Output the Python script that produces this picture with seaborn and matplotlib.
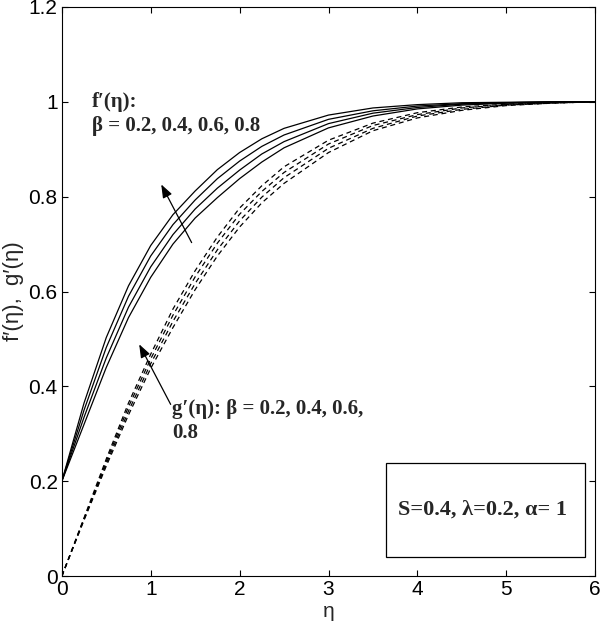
import numpy as np
import pandas as pd
import seaborn as sns
import matplotlib
matplotlib.use("Agg")
import matplotlib.pyplot as plt
from matplotlib.patches import Rectangle

eta = [0, 0.25, 0.5, 0.75, 1, 1.25, 1.5, 1.75, 2, 2.25, 2.5, 3, 3.5, 4, 4.5, 5, 5.5, 6]
betas = [0.2, 0.4, 0.6, 0.8]

# f'(eta) for beta = 0.2 .. 0.8
fp_02 = [0.2, 0.320, 0.440, 0.545, 0.630, 0.700, 0.755, 0.798, 0.838, 0.873, 0.903, 0.945, 0.970, 0.985, 0.993, 0.997, 0.999, 1.0]
fp_04 = [0.2, 0.335, 0.460, 0.567, 0.652, 0.720, 0.774, 0.818, 0.856, 0.890, 0.916, 0.954, 0.976, 0.988, 0.995, 0.998, 0.999, 1.0]
fp_06 = [0.2, 0.350, 0.482, 0.590, 0.675, 0.741, 0.793, 0.838, 0.875, 0.906, 0.930, 0.963, 0.981, 0.991, 0.996, 0.998, 1.0, 1.0]
fp_08 = [0.2, 0.365, 0.503, 0.612, 0.697, 0.762, 0.812, 0.857, 0.893, 0.922, 0.944, 0.972, 0.987, 0.994, 0.998, 0.999, 1.0, 1.0]

# g'(eta) for beta = 0.2 .. 0.8
gp_02 = [0, 0.118, 0.232, 0.340, 0.438, 0.524, 0.604, 0.675, 0.736, 0.787, 0.828, 0.893, 0.939, 0.966, 0.982, 0.992, 0.997, 1.0]
gp_04 = [0, 0.120, 0.237, 0.348, 0.448, 0.537, 0.617, 0.688, 0.749, 0.799, 0.840, 0.902, 0.944, 0.970, 0.984, 0.993, 0.997, 1.0]
gp_06 = [0, 0.121, 0.242, 0.357, 0.458, 0.550, 0.631, 0.702, 0.763, 0.811, 0.851, 0.911, 0.950, 0.973, 0.987, 0.994, 0.998, 1.0]
gp_08 = [0, 0.123, 0.247, 0.365, 0.468, 0.563, 0.644, 0.715, 0.776, 0.823, 0.863, 0.919, 0.955, 0.977, 0.989, 0.995, 0.998, 1.0]

rows = []
for b, fp, gp in zip(betas, [fp_02, fp_04, fp_06, fp_08], [gp_02, gp_04, gp_06, gp_08]):
    for e, vf, vg in zip(eta, fp, gp):
        rows.append({"eta": e, "val": vf, "beta": b, "func": "f"})
        rows.append({"eta": e, "val": vg, "beta": b, "func": "g"})
df = pd.DataFrame(rows)
df["curve"] = df["func"] + df["beta"].astype(str)

sns.set_style("ticks")
plt.rcParams["font.family"] = ["Liberation Sans", "DejaVu Sans"]

fig = plt.figure(figsize=(6.0, 6.27), dpi=100)
ax = fig.add_axes([0.103, 0.081, 0.889, 0.908])

for name, sub in df.groupby("curve"):
    style = "-" if name.startswith("f") else (0, (4, 3))
    sns.lineplot(data=sub, x="eta", y="val", ax=ax, color="black",
                 linewidth=0.9, linestyle=style, sort=True, estimator=None)

ax.set_xlim(0, 6)
ax.set_ylim(0, 1.2)
ax.set_xticks([0, 1, 2, 3, 4, 5, 6])
ax.set_yticks([0, 0.2, 0.4, 0.6, 0.8, 1.0, 1.2])
ax.set_yticklabels(["0", "0.2", "0.4", "0.6", "0.8", "1", "1.2"])
ax.tick_params(direction="in", length=4, width=0.8, labelsize=15, pad=3,
               top=True, right=True, colors="black")
for s in ax.spines.values():
    s.set_linewidth(0.8)
    s.set_color("black")
ax.set_xlabel("η", fontsize=15, labelpad=2)
ax.set_ylabel("f′(η),  g′(η)", fontsize=16, labelpad=3)

serif = dict(family=["Liberation Serif", "DejaVu Serif"], fontsize=15, fontweight="bold")
ax.text(0.34, 1.0, "f′(η):", ha="left", va="center", **serif)
ax.text(0.34, 0.95, "β = 0.2, 0.4, 0.6, 0.8", ha="left", va="center", **serif)
ax.text(1.24, 0.352, "g′(η): β = 0.2, 0.4, 0.6,", ha="left", va="center", **serif)
ax.text(1.24, 0.302, "0.8", ha="left", va="center", **serif)

arrow = dict(arrowstyle="-|>,head_length=0.8,head_width=0.3", color="black", lw=0.9)
ax.annotate("", xy=(1.104, 0.831), xytext=(1.475, 0.698), arrowprops=arrow)
ax.annotate("", xy=(0.856, 0.494), xytext=(1.239, 0.357), arrowprops=arrow)

ax.add_patch(Rectangle((3.65, 0.04), 2.23, 0.198, fill=False, edgecolor="black", linewidth=0.9))
ax.text(3.78, 0.14, "S=0.4, λ=0.2, α= 1", ha="left", va="center",
        family=["Liberation Serif", "DejaVu Serif"], fontsize=16, fontweight="bold")

fig.savefig("out.png", dpi=100)
